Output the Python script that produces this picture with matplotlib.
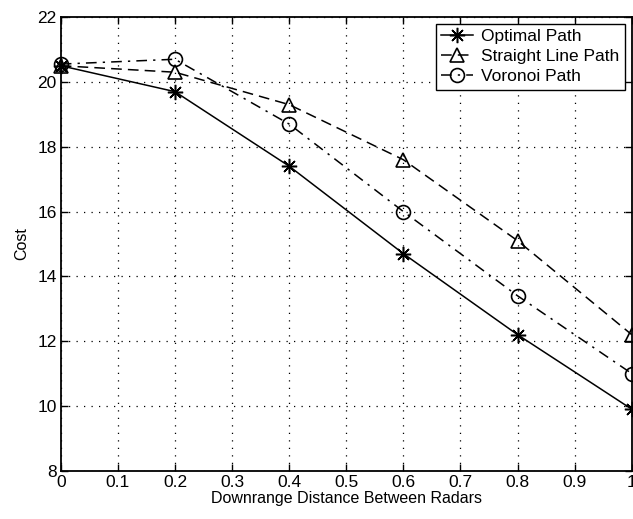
import matplotlib
matplotlib.use('Agg')
import matplotlib.pyplot as plt
import numpy as np

plt.rcParams['font.family'] = ['Liberation Sans', 'DejaVu Sans']

x = np.array([0, 0.2, 0.4, 0.6, 0.8, 1.0])
optimal = np.array([20.5, 19.7, 17.4, 14.7, 12.2, 9.9])
straight = np.array([20.5, 20.3, 19.3, 17.6, 15.1, 12.2])
voronoi = np.array([20.55, 20.7, 18.7, 16.0, 13.4, 11.0])

fig = plt.figure(figsize=(6.33, 5.19), dpi=100)
ax = fig.add_axes([0.096, 0.093, 0.902, 0.874])

ax.plot(x, optimal, 'k-', marker=(8, 2, 0), lw=1.1, ms=11, mew=1.1,
        label='Optimal Path', clip_on=False)
ax.plot(x, straight, 'k--^', lw=1.1, ms=10, mfc='none', mew=1.2,
        dashes=(7, 4), label='Straight Line Path', clip_on=False)
ax.plot(x, voronoi, 'k-.o', lw=1.1, ms=10, mfc='none', mew=1.2,
        dashes=(7, 4, 1.5, 4), label='Voronoi Path', clip_on=False)

ax.set_xlim(0, 1)
ax.set_ylim(8, 22)
ax.set_xticks(np.arange(0, 1.01, 0.1))
ax.set_xticklabels(['0', '0.1', '0.2', '0.3', '0.4', '0.5', '0.6', '0.7', '0.8', '0.9', '1'])
ax.set_yticks(np.arange(8, 23, 2))
ax.grid(True, color='k', linestyle=(0, (1, 5)), lw=0.9)
ax.tick_params(direction='in', top=True, right=True, labelsize=12.5, length=5, width=1, pad=3)
for s in ax.spines.values():
    s.set_linewidth(1.3)

ax.set_xlabel('Downrange Distance Between Radars', fontsize=11.5, labelpad=1)
ax.set_ylabel('Cost', fontsize=11.5, labelpad=6)

leg = ax.legend(loc='upper right', fontsize=12.5, fancybox=False, edgecolor='k',
                framealpha=1, borderpad=0.3, labelspacing=0.28, handlelength=1.8,
                handletextpad=0.5, borderaxespad=0.4)
leg.get_frame().set_linewidth(1.0)

fig.savefig('out.png', dpi=100)
